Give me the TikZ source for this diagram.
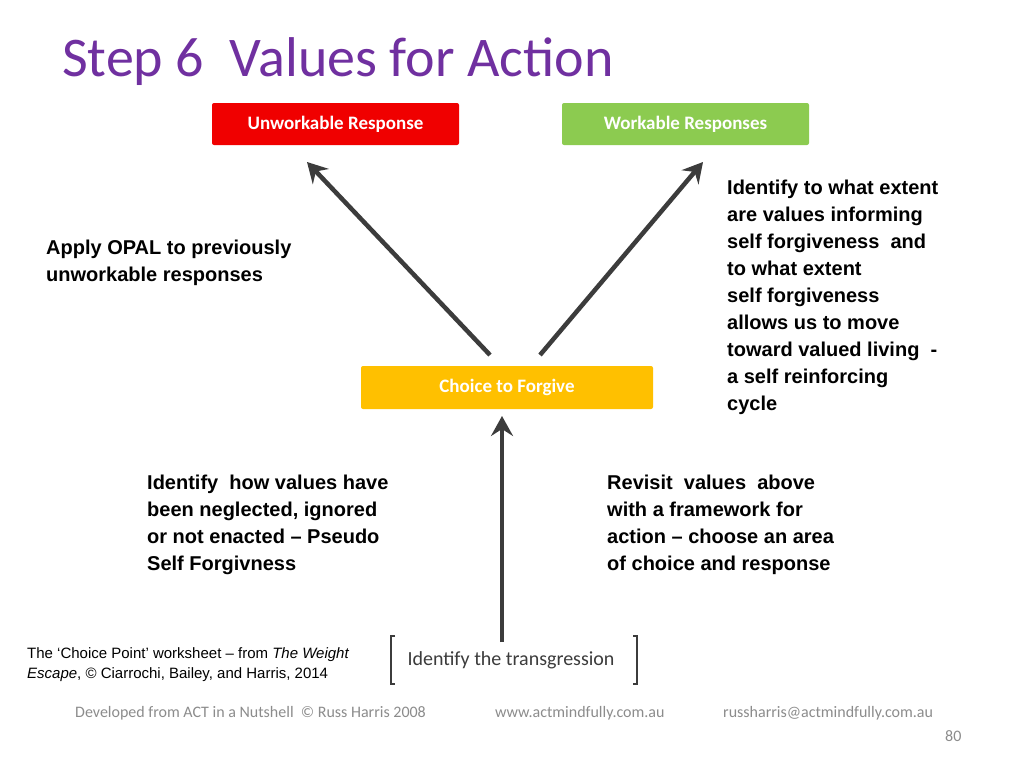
\documentclass[tikz,border=0pt]{standalone}
\usepackage{fontspec}
\setmainfont{Liberation Sans}
\newfontfamily\carl{Carlito}
\usetikzlibrary{arrows.meta}
\definecolor{ttl}{HTML}{7030A0}
\definecolor{rbox}{HTML}{F00000}
\definecolor{gbox}{HTML}{8CCB50}
\definecolor{obox}{HTML}{FFC000}
\definecolor{arr}{HTML}{3C3C3C}
\definecolor{foot}{HTML}{8C8C8C}
\begin{document}
\begin{tikzpicture}[x=1pt,y=-1pt,
  box/.style={rounded corners=2pt,minimum width=247pt,minimum height=42pt,text=white,font=\carl\bfseries\fontsize{19}{22}\selectfont},
  big/.style={draw=arr,line width=4.5pt,-{Stealth[length=20pt,width=22pt,inset=7pt]}},
  txt/.style={anchor=north west,align=left,font=\bfseries\fontsize{20}{27}\selectfont,inner sep=0pt},
  ft/.style={text=foot,font=\carl\fontsize{16}{18}\selectfont,anchor=west,inner sep=0pt}]
\useasboundingbox[fill=white] (0,0) rectangle (1024,768);
\node[anchor=west,text=ttl,font=\carl\fontsize{56}{60}\selectfont,inner sep=0pt] (title) at (62,62) {Step 6\ \ Values for Action};
\node[box,fill=rbox] (un) at (335.5,124) {Unworkable Response};
\node[box,fill=gbox] (wk) at (685.5,124) {Workable Responses};
\node[box,fill=obox,minimum width=292pt,minimum height=43pt] (ch) at (507,387.5) {Choice to Forgive};
\node[text=arr,font=\carl\fontsize{20}{22}\selectfont,inner sep=0pt] (tr) at (511,660) {Identify the transgression};
\draw[arr,line width=2.5pt] (395,636) -- (391,636) -- (391,684) -- (395,684);
\draw[arr,line width=2.5pt] (633,636) -- (637,636) -- (637,684) -- (633,684);
\coordinate (l0) at (490,355); \coordinate (r0) at (540,355); \coordinate (b0) at (502,642);
\draw[big] (l0) -- (307,162);
\draw[big] (r0) -- (703,162);
\draw[big] (b0) -- (502,416);
\node[txt] (opal) at (46,240) {Apply OPAL to previously\\unworkable responses};
\node[txt] (ident) at (727,180) {Identify to what extent\\are values informing\\self forgiveness\ \ and\\to what extent\\self forgiveness\\allows us to move\\toward valued living\ \ -\\a self reinforcing\\cycle};
\node[txt] (neg) at (147,475) {Identify\ \ how values have\\been neglected, ignored\\or not enacted -- Pseudo\\Self Forgivness};
\node[txt] (rev) at (607,475) {Revisit\ \ values\ \ above\\with a framework for\\action -- choose an area\\of choice and response};
\node[anchor=north west,align=left,font=\fontsize{15}{20}\selectfont,inner sep=0pt] (cite) at (27,647) {The `Choice Point' worksheet -- from \textit{The Weight}\\\textit{Escape}, \textcopyright{} Ciarrochi, Bailey, and Harris, 2014};
\node[ft] (f1) at (75,713) {Developed from ACT in a Nutshell\ \ \textcopyright{} Russ Harris 2008};
\node[ft] (f2) at (495,713) {www.actmindfully.com.au};
\node[ft] (f3) at (723,713) {russharris@actmindfully.com.au};
\node[ft] (pg) at (945,736) {80};
\end{tikzpicture}
\end{document}
